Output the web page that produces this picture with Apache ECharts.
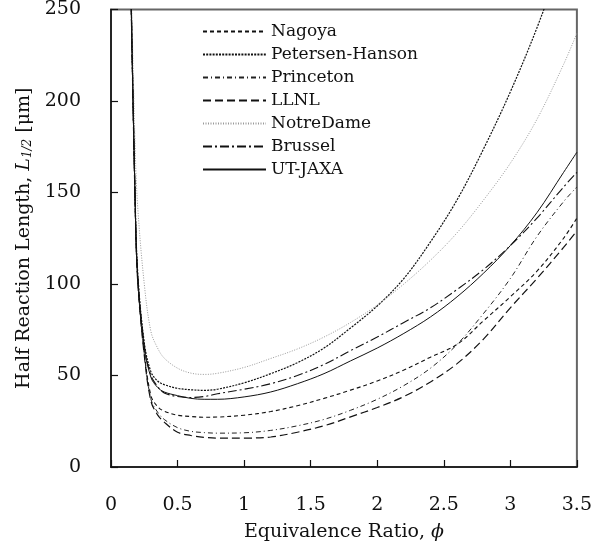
<!DOCTYPE html>
<html>
<head>
<meta charset="utf-8">
<script src="https://cdn.jsdelivr.net/npm/echarts@6/dist/echarts.min.js"></script>
<style>html,body{margin:0;padding:0;background:#fff}#c{width:595px;height:554px}</style>
</head>
<body>
<div id="c"></div>
<script>
var phi = [0.15, 0.18, 0.2, 0.25, 0.3, 0.35, 0.4, 0.5, 0.6, 0.7, 0.8, 1.0, 1.2, 1.4, 1.6, 1.8, 2.0, 2.2, 2.4, 2.6, 2.8, 3.0, 3.2, 3.4, 3.5];
var nagoya    = [260, 150, 105, 63, 39, 33, 30.5, 28.3, 27.6, 27.2, 27.3, 28.3, 30.3, 33.5, 37.5, 42, 47, 53, 60, 67, 80, 93, 107, 125, 136];
var petersen  = [262, 152, 107, 68, 52, 47, 45, 43, 42.2, 41.9, 42.5, 46, 51, 57, 65, 76, 88, 103, 123, 146, 174, 205, 240, 280, 300];
var princeton = [260, 149, 103, 62, 37, 30, 26, 21.5, 19.5, 18.8, 18.5, 18.7, 20, 22.5, 26, 31, 37, 44.5, 54, 67, 84, 103, 126, 145, 153];
var llnl      = [258, 148, 102, 61, 36, 28.5, 24.5, 19, 17.2, 16.2, 15.8, 15.8, 16.4, 19, 22.5, 27.4, 32.5, 38.5, 46.5, 56.5, 70, 87, 103, 120, 129];
var notredame = [270, 178, 143, 100, 74, 65, 59.5, 54, 51.3, 50.6, 51.2, 54.4, 59.3, 64.5, 71, 79, 88.5, 100, 113, 128, 146, 166, 190, 220, 237];
var brussel   = [262, 150, 105, 66, 50, 44, 40.5, 38.5, 38, 38.5, 40, 42.5, 45.5, 50, 56, 63.6, 71, 79, 87, 97, 108, 121, 136, 153, 161];
var utjaxa    = [262, 150, 105, 66, 49, 43.5, 41, 39, 37.5, 37, 37, 38.3, 41, 45.5, 51, 58, 65, 73, 82, 93, 106, 121, 139, 161, 172];
var xTicks = [0, 0.5, 1, 1.5, 2, 2.5, 3, 3.5];
var yTicks = [0, 50, 100, 150, 200, 250];

function pairs(ys) { return phi.map(function (x, i) { return [x, ys[i]]; }); }

var FONT = 'DejaVu Serif';
var defs = [
  { name: 'Nagoya', data: nagoya, type: [4, 3], width: 1.1, color: '#111' },
  { name: 'Petersen-Hanson', data: petersen, type: [2, 1.2], width: 1.2, color: '#111' },
  { name: 'Princeton', data: princeton, type: [5, 3, 1, 3], width: 1, color: '#222' },
  { name: 'LLNL', data: llnl, type: [8, 4], width: 1.2, color: '#111' },
  { name: 'NotreDame', data: notredame, type: [1, 1.5], width: 1, color: '#999' },
  { name: 'Brussel', data: brussel, type: [9, 3, 2, 3], width: 1.1, color: '#111' },
  { name: 'UT-JAXA', data: utjaxa, type: 'solid', width: 1, color: '#111' }
];

var series = defs.map(function (d) {
  return {
    name: d.name, type: 'line', data: pairs(d.data), smooth: 0.35,
    showSymbol: false, symbol: 'none', clip: true,
    lineStyle: { color: d.color, width: d.width, type: d.type },
    itemStyle: { color: d.color }
  };
});

var chart = echarts.init(document.getElementById('c'), null, { renderer: 'canvas' });
chart.setOption({
  animation: false,
  backgroundColor: '#fff',
  grid: { left: 111, right: 17, top: 8, bottom: 87, show: true, borderColor: '#666', borderWidth: 2, backgroundColor: 'transparent' },
  legend: {
    orient: 'vertical', left: 197, top: 18, itemWidth: 63, itemHeight: 14, itemGap: 6,
    itemStyle: { opacity: 0 },
    textStyle: { fontFamily: FONT, fontSize: 17, color: '#111', lineHeight: 17 },
    data: defs.map(function (d) { return d.name; })
  },
  xAxis: {
    type: 'value', min: 0, max: 3.5, interval: 0.5,
    name: 'Equivalence Ratio, {i|ϕ}', nameLocation: 'middle', nameGap: 56,
    nameTextStyle: { fontFamily: FONT, fontSize: 19, color: '#111', rich: { i: { fontFamily: FONT, fontStyle: 'italic', fontSize: 19, color: '#111' } } },
    axisLine: { show: true, lineStyle: { color: '#111', width: 1.5 } },
    axisTick: { show: true, inside: true, length: 7, lineStyle: { color: '#111', width: 1.2 } },
    splitLine: { show: false },
    axisLabel: { fontFamily: FONT, fontSize: 19, color: '#111', margin: 29,
      formatter: function (v) { return xTicks.indexOf(v) >= 0 ? String(v) : ''; } }
  },
  yAxis: {
    type: 'value', min: 0, max: 250, interval: 50,
    name: '{n|Half Reaction Length, }{i|L}{s|1/2}{n| [μm]}', nameLocation: 'middle', nameGap: 68, nameRotate: 90,
    nameTextStyle: { fontFamily: FONT, fontSize: 19, color: '#111',
      rich: {
        n: { fontFamily: FONT, fontSize: 19, color: '#111' },
        i: { fontFamily: FONT, fontSize: 19, fontStyle: 'italic', color: '#111' },
        s: { fontFamily: FONT, fontSize: 12, fontStyle: 'italic', color: '#111', verticalAlign: 'bottom', padding: [8, 0, 0, 0] }
      } },
    axisLine: { show: true, lineStyle: { color: '#111', width: 1.5 } },
    axisTick: { show: true, inside: true, length: 7, lineStyle: { color: '#111', width: 1.2 } },
    splitLine: { show: false },
    axisLabel: { fontFamily: FONT, fontSize: 19, color: '#111', margin: 30,
      formatter: function (v) { return yTicks.indexOf(v) >= 0 ? String(v) : ''; } }
  },
  series: series
});
</script>
</body>
</html>
